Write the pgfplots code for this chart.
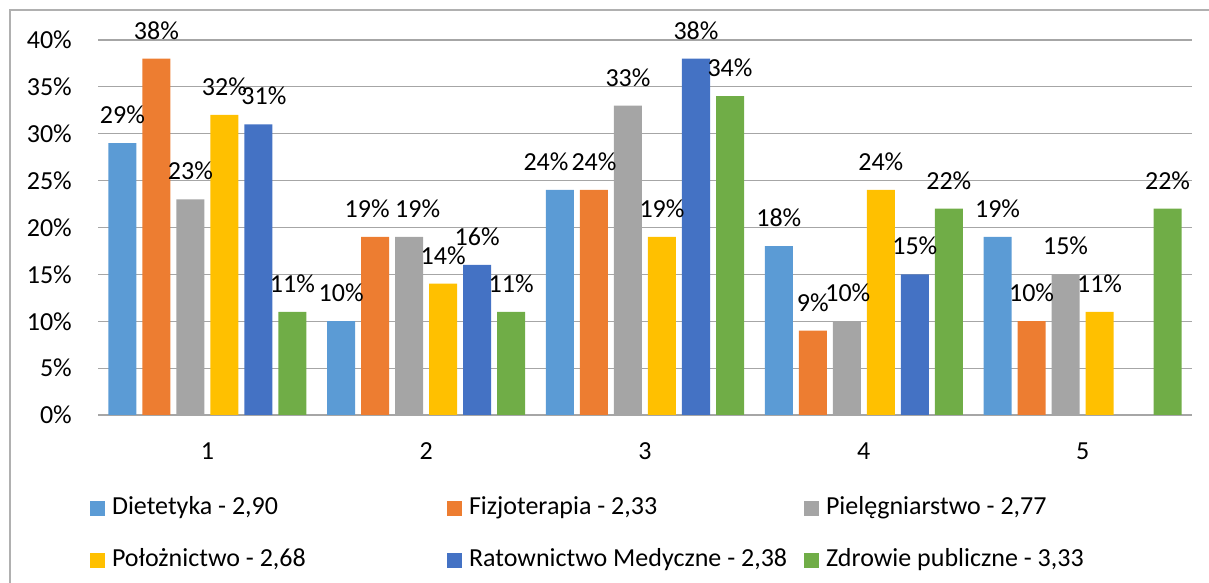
\documentclass[border=0pt]{standalone}
\usepackage{pgfplots}
\usepackage{pgfplotstable}
\pgfplotsset{compat=1.18}
\usepackage{fontspec}
\setmainfont{Carlito}
\definecolor{c1}{HTML}{5B9BD5}
\definecolor{c2}{HTML}{ED7D31}
\definecolor{c3}{HTML}{A5A5A5}
\definecolor{c4}{HTML}{FFC000}
\definecolor{c5}{HTML}{4472C4}
\definecolor{c6}{HTML}{70AD47}
\definecolor{gridc}{HTML}{A6A6A6}
\definecolor{bordc}{HTML}{B0B0B0}
\newcommand{\legtxt}[1]{\hspace{7pt}\makebox[335pt][l]{#1}}
% x = answer, y = percent, dx = label shift (pt)
\pgfplotstableread{
x y dx
1 29 0
2 10 0
3 24 -14
4 18 0
5 19 0
}\tDiet
\pgfplotstableread{
x y dx
1 38 0
2 19 -8
3 24 0
4 9 0
5 10 0
}\tFizjo
\pgfplotstableread{
x y dx
1 23 0
2 19 8.5
3 33 0
4 10 1
5 15 0
}\tPiel
\pgfplotstableread{
x y dx
1 32 0
2 14 0
3 19 0
4 24 0
5 11 0
}\tPoloz
\pgfplotstableread{
x y dx
1 31 5.5
2 16 0
3 38 0
4 15 0
}\tRatow
\pgfplotstableread{
x y dx
1 11 0
2 11 0
3 34 0
4 22 0
5 22 0
}\tZdrow
\begin{document}
\begin{tikzpicture}[font=\fontsize{26}{31}\selectfont]
\useasboundingbox (0pt,0pt) rectangle (1209pt,583pt);
\draw[bordc, line width=1.2pt] (10pt,-30pt) rectangle (1250pt,573pt);
\begin{axis}[
  at={(98pt,168pt)}, anchor=south west,
  scale only axis, width=1094pt, height=375pt,
  xmin=0.5, xmax=5.5, ymin=0, ymax=40,
  ybar=6pt, bar width=28pt,
  xtick={1,2,3,4,5}, ytick={0,5,...,40},
  major tick length=0pt,
  yticklabel={\pgfmathprintnumber{\tick}\%},
  /pgf/number format/assume math mode=true,
  ymajorgrids, grid style={gridc, line width=1.1pt},
  axis x line*=bottom, axis y line*=left,
  y axis line style={draw=none},
  x axis line style={gridc, line width=1.1pt},
  clip=false,
  xticklabel style={anchor=base, yshift=-44pt, inner sep=0pt},
  yticklabel style={anchor=east, xshift=-26pt, inner sep=0pt},
  point meta=y,
  visualization depends on={\thisrow{dx}\as\dx},
  nodes near coords={\pgfmathprintnumber{\pgfplotspointmeta}\%},
  every node near coord/.append style={anchor=base, yshift=19.5pt, xshift=\dx pt, inner sep=0pt, text=black},
  legend columns=3,
  legend cell align=left,
  legend style={at={(-0.0073,-0.221)}, anchor=north west, draw=none, fill=none,
    inner sep=0pt, outer sep=0pt, row sep=30pt, column sep=0pt,
    nodes={inner sep=0pt, text height=17pt, text depth=5pt}},
  legend image code/.code={\fill[#1] (0pt,-7.5pt) rectangle (15pt,7.5pt);},
]
\addplot[fill=c1, draw=none] table[x=x, y=y] {\tDiet};
\addlegendentry{\legtxt{Dietetyka - 2,90}}
\addplot[fill=c2, draw=none] table[x=x, y=y] {\tFizjo};
\addlegendentry{\legtxt{Fizjoterapia - 2,33}}
\addplot[fill=c3, draw=none] table[x=x, y=y] {\tPiel};
\addlegendentry{\legtxt{Pielęgniarstwo - 2,77}}
\addplot[fill=c4, draw=none] table[x=x, y=y] {\tPoloz};
\addlegendentry{\legtxt{Położnictwo - 2,68}}
\addplot[fill=c5, draw=none] table[x=x, y=y] {\tRatow};
\addlegendentry{\legtxt{Ratownictwo Medyczne - 2,38}}
\addplot[fill=c6, draw=none] table[x=x, y=y] {\tZdrow};
\addlegendentry{\legtxt{Zdrowie publiczne - 3,33}}
\end{axis}
\end{tikzpicture}
\end{document}
